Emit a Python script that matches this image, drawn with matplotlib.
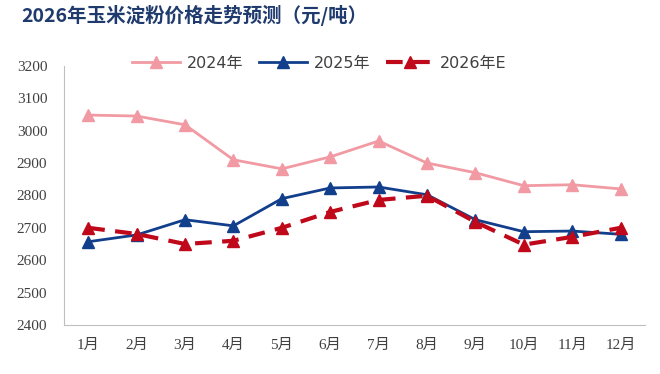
import matplotlib.pyplot as plt

plt.rcParams['font.family'] = ['Liberation Serif', 'Noto Sans CJK SC', 'DejaVu Sans']

months = ['1月', '2月', '3月', '4月', '5月', '6月', '7月', '8月', '9月', '10月', '11月', '12月']
price_2024 = [3048, 3045, 3018, 2910, 2882, 2919, 2968, 2900, 2870, 2830, 2833, 2820]
price_2025 = [2657, 2678, 2725, 2706, 2790, 2823, 2826, 2802, 2725, 2688, 2690, 2680]
price_2026e = [2700, 2681, 2650, 2660, 2700, 2749, 2786, 2799, 2718, 2648, 2672, 2700]

fig = plt.figure(figsize=(6.6, 3.74), dpi=100)
ax = fig.add_axes([0.097, 0.131, 0.88, 0.693])

x = range(len(months))
ax.plot(x, price_2024, color='#f29aa3', lw=2, marker='^', ms=8, label='2024年')
ax.plot(x, price_2025, color='#123f8c', lw=2, marker='^', ms=8, label='2025年')
ax.plot(x, price_2026e, color='#c0081b', lw=3, ls=(0, (4, 2.5)), marker='^', ms=9, label='2026年E')

ax.set_xlim(-0.5, 11.5)
ax.set_ylim(2400, 3200)
ax.set_yticks(range(2400, 3201, 100))
ax.set_xticks(list(x))
ax.set_xticklabels(months)
ax.tick_params(length=0, labelsize=11, colors='#404040')
ax.tick_params(axis='x', pad=10)
ax.tick_params(axis='y', pad=12)
for s in ['top', 'right']:
    ax.spines[s].set_visible(False)
for s in ['left', 'bottom']:
    ax.spines[s].set_color('#bfbfbf')

leg = ax.legend(loc='center', bbox_to_anchor=(0.44, 1.01), ncol=3, frameon=False,
                handlelength=3.0, columnspacing=1.0, handletextpad=0.4,
                prop={'family': ['DejaVu Sans', 'Noto Sans CJK SC'], 'size': 11.5})
for t in leg.get_texts():
    t.set_color('#404040')

fig.text(0.033, 0.94, '2026年玉米淀粉价格走势预测（元/吨）', fontsize=14, fontweight='bold',
         color='#1f3b6e', family=['Noto Sans CJK SC'])

fig.savefig('out.png', dpi=100)
